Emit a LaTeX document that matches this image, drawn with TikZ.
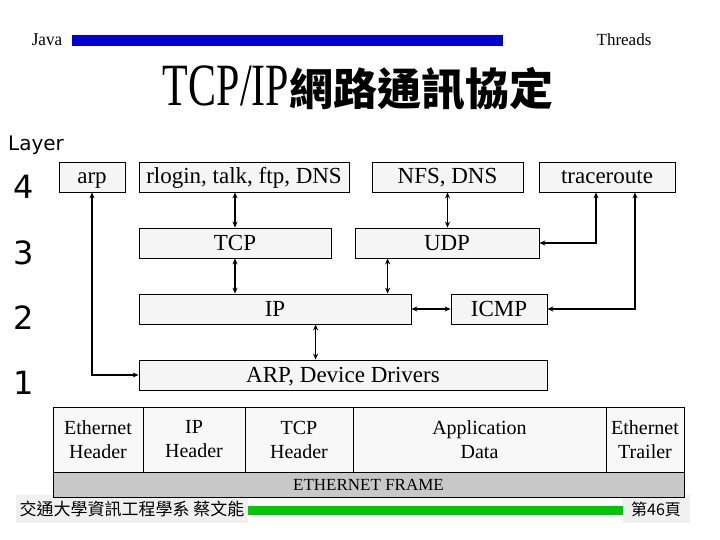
\documentclass[tikz,border=0pt]{standalone}
\usepackage{graphicx}
\usepackage{fontspec}
\setmainfont{Liberation Serif}
\newfontfamily\cjkfont{Noto Sans CJK TC}
\newfontfamily\layerfont{DejaVu Sans}
\usetikzlibrary{arrows.meta,positioning}
\definecolor{BarBlue}{RGB}{0,0,204}
\definecolor{BarGreen}{RGB}{0,200,0}
\definecolor{BoxFill}{RGB}{245,245,245}
\definecolor{CellFill}{RGB}{248,248,248}
\definecolor{FrameGray}{RGB}{200,200,200}
\definecolor{FootFill}{RGB}{240,240,240}
\tikzset{
  protobox/.style={rectangle,draw=black,fill=BoxFill,line width=0.8pt,
    inner sep=0pt,minimum height=30pt,text height=16pt,text depth=2pt,
    font=\fontsize{23}{26}\selectfont},
  cellbox/.style={rectangle,draw=black,fill=CellFill,line width=0.8pt,
    inner sep=0pt,outer sep=0pt,minimum height=65pt,align=center,
    font=\fontsize{20}{24}\selectfont},
  layernum/.style={font=\layerfont\fontsize{32}{36}\selectfont},
  footbox/.style={rectangle,fill=FootFill,inner sep=0pt,minimum height=28pt,
    font=\cjkfont\fontsize{17}{20}\selectfont},
  dblarrow/.style={{Stealth[length=6pt,width=5pt]}-{Stealth[length=6pt,width=5pt]},
    line width=1.6pt}
}
\begin{document}
\begin{tikzpicture}[x=1pt,y=-1pt]
  \useasboundingbox[fill=white] (0,0) rectangle (720,540);
  % header
  \fill[BarBlue] (72,35) rectangle (503,46);
  \node[font=\fontsize{18}{20}\selectfont] (java) at (47,40) {\scalebox{0.95}[1]{Java}};
  \node[font=\fontsize{17}{20}\selectfont] (threads) at (624,40) {Threads};
  \node (title) at (358,88) {\scalebox{0.7}[1]{\fontsize{60}{60}\selectfont TCP/IP}{\cjkfont\bfseries\fontsize{44}{48}\selectfont 網路通訊協定}};
  % layers
  \node[font=\layerfont\fontsize{20}{24}\selectfont] (layer) at (36,145) {Layer};
  \node[layernum] (l4) at (24,187) {4};
  \node[layernum] (l3) at (24,253) {3};
  \node[layernum] (l2) at (24,318) {2};
  \node[layernum] (l1) at (24,383) {1};
  % protocol boxes
  \node[protobox,minimum width=66pt] (arp) at (92,177) {arp};
  \node[protobox,minimum width=210pt] (rlogin) at (244,177) {rlogin, talk, ftp, DNS};
  \node[protobox,minimum width=151pt] (nfs) at (447.5,177) {NFS, DNS};
  \node[protobox,minimum width=136pt] (trace) at (607,177) {traceroute};
  \node[protobox,minimum width=192pt] (tcp) at (235,243) {TCP};
  \node[protobox,minimum width=184pt] (udp) at (447,243) {UDP};
  \node[protobox,minimum width=272pt] (ip) at (275,309) {IP};
  \node[protobox,minimum width=96pt] (icmp) at (499,309) {ICMP};
  \node[protobox,minimum width=408pt] (drv) at (343,375) {ARP, Device Drivers};
  % connectors
  \draw[dblarrow] (tcp.north) -- (tcp.north |- rlogin.south);
  \draw[dblarrow] (nfs.south) -- (nfs.south |- udp.north);
  \draw[dblarrow] (tcp.south) -- (tcp.south |- ip.north);
  \draw[dblarrow] ([xshift=33pt]udp.south west) -- ([xshift=33pt]udp.south west |- ip.north);
  \draw[dblarrow] (ip.east) -- (icmp.west);
  \draw[dblarrow] ([xshift=177pt]ip.south west) -- ([xshift=177pt]ip.south west |- drv.north);
  \draw[dblarrow] (arp.south) |- (drv.west);
  \draw[dblarrow] ([xshift=-11pt]trace.south) |- (udp.east);
  \draw[dblarrow] ([xshift=28pt]trace.south) |- (icmp.east);
  % footer
  \fill[BarGreen] (248,506) rectangle (623,515);
  \node[footbox,minimum width=232pt] (dept) at (132,509) {交通大學資訊工程學系 蔡文能};
  \node[footbox,minimum width=67pt,font=\cjkfont\fontsize{16}{20}\selectfont] (page) at (656,509) {第46頁};
  % ethernet frame
  \node[cellbox,minimum width=90pt,anchor=north west] (eth) at (53,407) {Ethernet\\Header};
  \node[cellbox,minimum width=102pt,right=0pt of eth] (iph) {IP\\Header};
  \node[cellbox,minimum width=108pt,right=0pt of iph] (tcph) {TCP\\Header};
  \node[cellbox,minimum width=253pt,right=0pt of tcph] (app) {Application\\Data};
  \node[cellbox,minimum width=78pt,right=0pt of app] (trail) {Ethernet\\Trailer};
  \node[rectangle,draw=black,fill=FrameGray,line width=0.8pt,inner sep=0pt,outer sep=0pt,
    minimum width=631pt,minimum height=25pt,anchor=north west,
    font=\fontsize{17}{20}\selectfont] (frame) at (eth.south west) {ETHERNET FRAME};
\end{tikzpicture}
\end{document}
